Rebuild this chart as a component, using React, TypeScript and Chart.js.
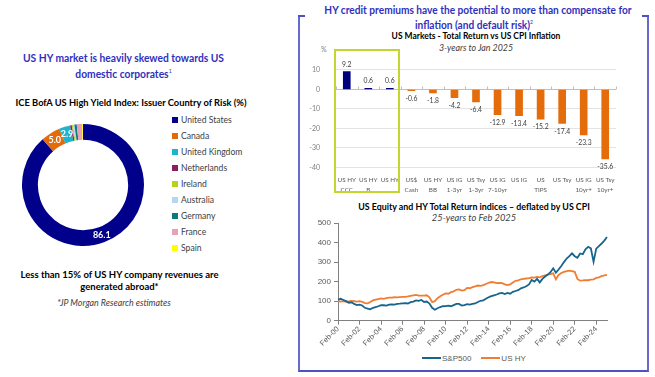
import React, { useEffect, useRef } from "react";
import { Chart, registerables } from "chart.js";
Chart.register(...registerables);

// ---------- Donut data ----------
const donutCategories = ["United States", "Canada", "United Kingdom", "Netherlands", "Ireland", "Australia", "Germany", "France", "Spain"];
const donutValues = [86.1, 5.0, 2.9, 0.4, 0.3, 0.4, 0.6, 1.4, 0.2];
const donutColors = ["#00008B", "#E26B0A", "#1FB3CC", "#8B1E5E", "#B9CF1E", "#B7D4F0", "#0F7A7A", "#E9A2B4", "#FFFF00"];

// ---------- Bar data ----------
const barCategories = [
  ["US HY", "CCC"], ["US HY", "B"], ["US HY"], ["US$", "Cash"], ["US HY", "BB"], ["US IG", "1-3yr"],
  ["US Tsy", "1-3yr"], ["US IG", "7-10yr"], ["US IG"], ["US", "TIPS"], ["US Tsy"], ["US IG", "10yr+"], ["US Tsy", "10yr+"],
];
const barValues = [9.2, 0.6, 0.6, -0.6, -1.8, -4.2, -6.4, -12.9, -13.4, -15.2, -17.4, -23.3, -35.6];
const barColors = ["#00007F", "#00007F", "#00007F", "#E46C0A", "#E46C0A", "#E46C0A", "#E46C0A", "#E46C0A", "#E46C0A", "#E46C0A", "#E46C0A", "#E46C0A", "#E46C0A"];
const barYMin = -40;
const barYMax = 15;
const barYStep = 5;

// ---------- Line data (quarterly, Feb-00 .. Feb-25) ----------
const months = ["Feb", "May", "Aug", "Nov"];
const lineLabels: string[] = [];
for (let y = 0; y <= 25; y++) {
  for (let q = 0; q < 4; q++) {
    if (y === 25 && q > 0) break;
    lineLabels.push(months[q] + "-" + String(y).padStart(2, "0"));
  }
}
const sp500Values = [
  108, 112, 106, 100,
  92, 94, 86, 80,
  82, 78, 66, 62,
  58, 66, 70, 74,
  80, 79, 77, 82,
  83, 82, 86, 87,
  89, 90, 88, 95,
  98, 104, 102, 106,
  96, 98, 88, 66,
  56, 64, 70, 74,
  75, 77, 74, 80,
  86, 86, 78, 80,
  85, 82, 86, 88,
  96, 102, 104, 112,
  120, 126, 130, 134,
  140, 142, 136, 142,
  138, 148, 152, 156,
  166, 170, 176, 186,
  208, 200, 214, 196,
  214, 226, 236, 248,
  268, 246, 262, 280,
  300, 318, 330, 345,
  330, 322, 344, 340,
  365, 378, 370, 302,
  369, 382, 395, 410,
  428,
];
const usHyValues = [
  100, 98, 100, 97,
  99, 101, 100, 98,
  100, 97, 90, 89,
  96, 104, 108, 111,
  114, 112, 115, 118,
  118, 120, 119, 121,
  122, 122, 124, 127,
  130, 132, 128, 128,
  128, 130, 120, 95,
  100, 115, 125, 133,
  140, 138, 146, 150,
  158, 160, 154, 156,
  168, 166, 172, 176,
  180, 178, 182, 188,
  194, 198, 196, 192,
  194, 192, 186, 182,
  186, 196, 204, 206,
  212, 214, 216, 218,
  221, 220, 224, 222,
  228, 232, 236, 238,
  242, 212, 234, 244,
  250, 254, 256, 254,
  250, 214, 205, 206,
  208, 207, 210, 212,
  219, 222, 228, 232,
  234,
];

Chart.defaults.font.family = "Lato";

function ChartCanvas({ make, left, top, width, height }: any) {
  const ref = useRef<HTMLCanvasElement | null>(null);
  useEffect(() => {
    const c = new Chart(ref.current as HTMLCanvasElement, make());
    return () => c.destroy();
  }, []);
  return (
    <canvas
      ref={ref}
      width={width}
      height={height}
      style={{ position: "absolute", left, top, width, height, display: "block" }}
    />
  );
}

const donutLabelPlugin = {
  id: "donutLabels",
  afterDatasetsDraw(chart: any) {
    const ctx = chart.ctx;
    const meta = chart.getDatasetMeta(0);
    ctx.save();
    ctx.fillStyle = "#ffffff";
    ctx.font = "bold 9px Lato";
    ctx.textAlign = "center";
    ctx.textBaseline = "middle";
    meta.data.forEach((arc: any, i: number) => {
      const v = donutValues[i];
      if (v < 2.5) return;
      const p = arc.tooltipPosition();
      ctx.fillText(v.toFixed(1), p.x, p.y);
    });
    ctx.restore();
  },
};

const barLabelPlugin = {
  id: "barLabels",
  afterDatasetsDraw(chart: any) {
    const ctx = chart.ctx;
    const meta = chart.getDatasetMeta(0);
    const ys = chart.scales.y;
    const xs = chart.scales.x;
    const y0 = ys.getPixelForValue(0);
    ctx.save();
    ctx.strokeStyle = "#bfbfbf";
    ctx.lineWidth = 1;
    const n = barValues.length;
    const w = (xs.right - xs.left) / n;
    for (let i = 0; i <= n; i++) {
      const x = Math.round(xs.left + i * w) + 0.5;
      ctx.beginPath();
      ctx.moveTo(x, y0);
      ctx.lineTo(x, y0 - 3);
      ctx.stroke();
    }
    ctx.fillStyle = "#404040";
    ctx.font = "6.8px Lato";
    ctx.textAlign = "center";
    ctx.textBaseline = "middle";
    meta.data.forEach((bar: any, i: number) => {
      const v = barValues[i];
      const y = v >= 0 ? bar.y - 7 : bar.y + 8;
      ctx.fillText(v.toFixed(1), bar.x, y);
    });
    ctx.restore();
  },
};

function makeDonut() {
  return {
    type: "doughnut",
    data: {
      labels: donutCategories,
      datasets: [{ data: donutValues, backgroundColor: donutColors, borderWidth: 0 }],
    },
    options: {
      responsive: false,
      animation: false,
      cutout: "74%",
      layout: { padding: 0 },
      plugins: { legend: { display: false }, tooltip: { enabled: false } },
    },
    plugins: [donutLabelPlugin],
  };
}

function makeBar() {
  return {
    type: "bar",
    data: {
      labels: barCategories,
      datasets: [{ data: barValues, backgroundColor: barColors, barThickness: 7 }],
    },
    options: {
      responsive: false,
      animation: false,
      layout: { padding: { left: 5, right: 9, top: 17.5, bottom: 2.5 } },
      plugins: { legend: { display: false }, tooltip: { enabled: false } },
      scales: {
        x: {
          grid: { display: false, drawTicks: false },
          border: { display: false },
          ticks: { color: "#595959", font: { size: 6.3, lineHeight: 1.55 }, padding: 8, autoSkip: false, maxRotation: 0 },
          afterFit: (s: any) => { s.height = 30; },
        },
        y: {
          min: barYMin,
          max: barYMax,
          ticks: { stepSize: barYStep, color: "#7f7f7f", font: { size: 7 }, padding: 16 },
          grid: {
            drawTicks: false,
            color: (c: any) => (c.tick && c.tick.value === 0 ? "#bfbfbf" : "#e3e3e3"),
          },
          border: { display: false },
          afterFit: (s: any) => { s.width = 31; },
        },
      },
    },
    plugins: [barLabelPlugin],
  };
}

function makeLine() {
  return {
    type: "line",
    data: {
      labels: lineLabels,
      datasets: [
        { label: "S&P500", data: sp500Values, borderColor: "#17648D", borderWidth: 1.8, pointRadius: 0, tension: 0 },
        { label: "US HY", data: usHyValues, borderColor: "#F07D32", borderWidth: 1.8, pointRadius: 0, tension: 0 },
      ],
    },
    options: {
      responsive: false,
      animation: false,
      layout: { padding: { left: 0, right: 13, top: 8, bottom: 1.3 } },
      plugins: { legend: { display: false }, tooltip: { enabled: false } },
      scales: {
        x: {
          offset: false,
          grid: {
            drawOnChartArea: false,
            drawTicks: true,
            tickLength: 4,
            color: (c: any) => (c.index % 8 === 0 ? "#808080" : "rgba(0,0,0,0)"),
          },
          border: { display: true, color: "#808080" },
          ticks: {
            autoSkip: false,
            minRotation: 45,
            maxRotation: 45,
            color: "#595959",
            font: { size: 7.5, family: "Liberation Sans" },
            padding: 0,
            callback: (_v: any, i: number) => (i % 8 === 0 ? lineLabels[i] : ""),
          },
          afterFit: (s: any) => { s.height = 28; },
        },
        y: {
          min: 0,
          max: 500,
          ticks: { stepSize: 100, color: "#595959", font: { size: 8, family: "Liberation Sans" }, padding: 3 },
          grid: { drawOnChartArea: false, drawTicks: true, tickLength: 4, color: "#808080" },
          border: { display: true, color: "#808080" },
          afterFit: (s: any) => { s.width = 38; },
        },
      },
    },
  };
}

const blue = "#3030C0";

function Text({ left, top, width, size, bold, italic, color, align, children, lh, sx }: any) {
  return (
    <div
      style={{
        position: "absolute",
        left,
        top,
        width,
        fontSize: size,
        fontWeight: bold ? 700 : 400,
        fontStyle: italic ? "italic" : "normal",
        color: color || "#000",
        textAlign: align || "center",
        lineHeight: lh ? lh + "px" : "normal",
        whiteSpace: "nowrap",
        fontFamily: "Lato",
        transform: sx ? `scaleX(${sx})` : undefined,
        transformOrigin: "50% 50%",
      }}
    >
      {children}
    </div>
  );
}

export default function App() {
  const legendTop = 120;
  return (
    <div style={{ position: "absolute", left: 0, top: 0, width: 655, height: 377, background: "#fff", overflow: "hidden" }}>
      {/* Left panel */}
      <Text left={0} top={52} width={247} size={11.8} bold color={blue} lh={12.7} sx={0.87}>
        US HY market is heavily skewed towards US
        <br />
        domestic corporates<sup style={{ fontSize: 6, fontWeight: 400 }}>1</sup>
      </Text>
      <Text left={0} top={97} width={262} size={9.3} bold lh={12}>
        ICE BofA US High Yield Index: Issuer Country of Risk (%)
      </Text>
      <ChartCanvas make={makeDonut} left={22} top={124} width={122} height={122} />
      {donutCategories.map((c, i) => (
        <div key={c} style={{ position: "absolute", left: 172, top: legendTop + i * 16 - 6, height: 12, display: "flex", alignItems: "center" }}>
          <div style={{ width: 6, height: 6, background: donutColors[i], marginRight: 3 }} />
          <span style={{ fontFamily: "Lato", fontSize: 8.6, color: "#404040" }}>{c}</span>
        </div>
      ))}
      <Text left={0} top={268.5} width={239} size={9.5} bold lh={12.5}>
        Less than 15% of US HY company revenues are
        <br />
        generated abroad*
      </Text>
      <Text left={0} top={296.5} width={228} size={9.6} italic color="#404040" lh={12} sx={0.92}>
        *JP Morgan Research estimates
      </Text>

      {/* Right panel frame */}
      <div style={{ position: "absolute", left: 298, top: 16, width: 351, height: 356, borderLeft: "2px solid #6868CF", borderRight: "2px solid #6868CF", borderBottom: "2px solid #5050C0", boxSizing: "border-box" }} />
      <div style={{ position: "absolute", left: 298, top: 15, width: 7, height: 2, background: "#5050C0" }} />
      <div style={{ position: "absolute", left: 642, top: 15, width: 7, height: 2, background: "#5050C0" }} />

      <Text left={300} top={3.5} width={348} size={11.8} bold color={blue} lh={12.3} sx={0.86}>
        HY credit premiums have the potential to more than compensate for
        <br />
        inflation (and default risk)<sup style={{ fontSize: 6, fontWeight: 400 }}>2</sup>
      </Text>
      <Text left={300} top={30} width={352} size={9.5} bold lh={12} sx={0.89}>
        US Markets - Total Return vs US CPI Inflation
      </Text>
      <Text left={300} top={42} width={352} size={9.3} italic color="#404040" lh={12} sx={0.95}>
        3-years to Jan 2025
      </Text>
      <div style={{ position: "absolute", left: 321, top: 45, fontFamily: "Lato", fontSize: 7, color: "#7f7f7f" }}>%</div>
      <ChartCanvas make={makeBar} left={300} top={40} width={325} height={160} />
      <div style={{ position: "absolute", left: 334, top: 49, width: 66, height: 144, border: "2px solid #C4D52E", boxSizing: "border-box" }} />

      <Text left={300} top={200.5} width={348} size={9.5} bold lh={12} sx={0.93}>
        US Equity and HY Total Return indices – deflated by US CPI
      </Text>
      <Text left={300} top={211.5} width={348} size={9.3} italic color="#404040" lh={12}>
        25-years to Feb 2025
      </Text>
      <ChartCanvas make={makeLine} left={300} top={215} width={320} height={135} />
      <div style={{ position: "absolute", left: 422, top: 352, height: 12, display: "flex", alignItems: "center", fontFamily: "Liberation Sans", fontSize: 8, color: "#595959" }}>
        <div style={{ width: 19, height: 2.5, background: "#17648D", marginRight: 1 }} />
        <span>S&amp;P500</span>
        <div style={{ width: 19, height: 2.5, background: "#F07D32", marginLeft: 10, marginRight: 1 }} />
        <span>US HY</span>
      </div>
    </div>
  );
}
